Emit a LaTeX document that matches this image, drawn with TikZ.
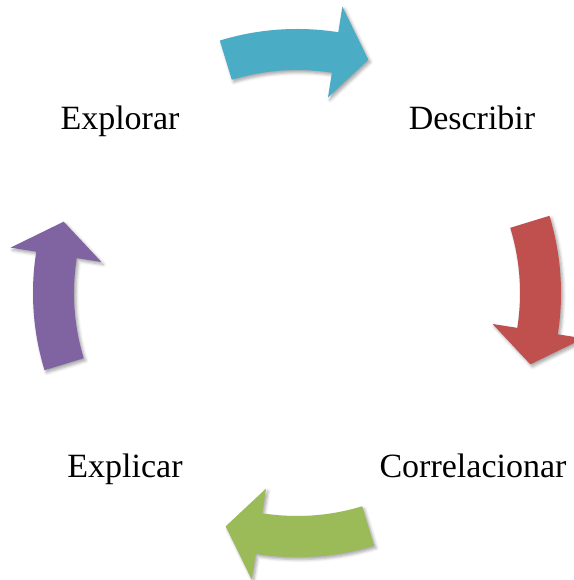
\documentclass[tikz,border=0pt]{standalone}
\usepackage{fontspec}
\setmainfont{Liberation Serif}
\usetikzlibrary{shadows.blur}

\definecolor{aquaarrow}{HTML}{4BACC6}
\definecolor{redarrow}{HTML}{C0504D}
\definecolor{greenarrow}{HTML}{9BBB59}
\definecolor{purplearrow}{HTML}{8064A2}

\begin{document}
\begin{tikzpicture}[x=1pt, y=1pt,
    stage/.style={anchor=base, inner sep=0pt, font=\fontsize{34}{40}\selectfont},
    bentarrow/.style={fill=#1, draw=none, blur shadow={shadow xshift=2pt, shadow yshift=-2.5pt, shadow blur radius=3pt, shadow opacity=35}}]

        \useasboundingbox (-297,-287) rectangle (276,293);

        \node[stage] (1) at (-177,163) {Explorar};
        \node[stage] (2) at (175,163) {Describir};
        \node[stage] (3) at (176,-184) {Correlacionar};
        \node[stage] (4) at (-172,-184) {Explicar};

        % curved block arrows round the cycle
        \foreach \a/\c in {90/aquaarrow, 0/redarrow, -90/greenarrow, 180/purplearrow}
            \path[bentarrow=\c] (\a+17:264) arc[start angle=\a+17, end angle=\a-9, radius=264]
                -- (\a-9:290) -- (\a-17:244) -- (\a-9:198) -- (\a-9:223)
                arc[start angle=\a-9, end angle=\a+17, radius=223] -- cycle;

        \end{tikzpicture}
\end{document}
